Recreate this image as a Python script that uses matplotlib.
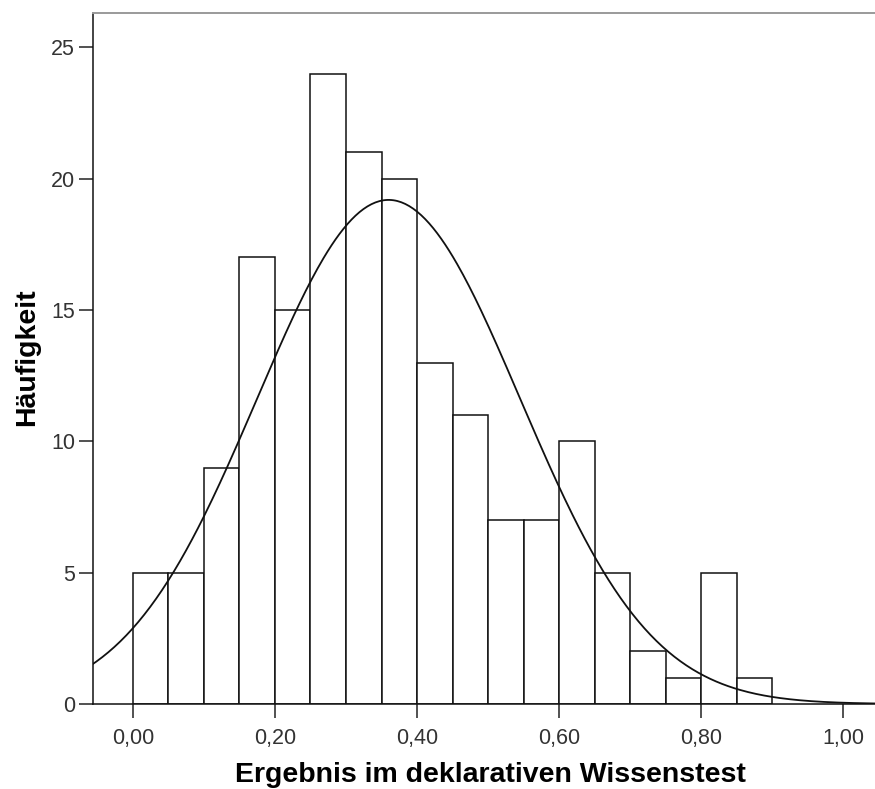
import numpy as np
import matplotlib
matplotlib.use('Agg')
import matplotlib.pyplot as plt
from matplotlib.ticker import FuncFormatter

# ---------------------
# DATA
# ---------------------
bin_left = [0.00, 0.05, 0.10, 0.15, 0.20, 0.25, 0.30, 0.35, 0.40,
            0.45, 0.50, 0.55, 0.60, 0.65, 0.70, 0.75, 0.80, 0.85]
counts = [5, 5, 9, 17, 15, 24, 21, 20, 13, 11, 7, 7, 10, 5, 2, 1, 5, 1]
bin_width = 0.05

# normal curve parameters (SPSS overlay)
curve_mean = 0.36
curve_sd = 0.185
n_total = sum(counts)

x_ticks = [0.0, 0.2, 0.4, 0.6, 0.8, 1.0]
y_ticks = [0, 5, 10, 15, 20, 25]

x_label = 'Ergebnis im deklarativen Wissenstest'
y_label = 'Häufigkeit'

plt.rcParams['font.family'] = ['Liberation Sans', 'DejaVu Sans']

fig = plt.figure(figsize=(8.75, 7.89), dpi=100)
ax = fig.add_axes([93 / 875, 85 / 789, 1 - 93 / 875, (704 - 12.7) / 789])

# bars
ax.bar(bin_left, counts, width=bin_width, align='edge',
       facecolor='white', edgecolor='#111111', linewidth=1.1, zorder=2)

# normal curve
xs = np.linspace(-0.06, 1.06, 400)
ys = n_total * bin_width / (curve_sd * np.sqrt(2 * np.pi)) * \
    np.exp(-0.5 * ((xs - curve_mean) / curve_sd) ** 2)
ax.plot(xs, ys, color='#111111', linewidth=1.3, zorder=3)

ax.set_xlim(-0.0563, 1.045)
ax.set_ylim(0, 26.32)

ax.set_xticks(x_ticks)
ax.set_yticks(y_ticks)
ax.xaxis.set_major_formatter(FuncFormatter(lambda v, p: f'{v:.2f}'.replace('.', ',')))
ax.tick_params(axis='both', direction='out', length=10, width=1.1,
               color='#222222', labelsize=15.5, labelcolor='#333333')
ax.tick_params(axis='x', pad=7)
ax.tick_params(axis='y', pad=3)

for side in ['left', 'bottom']:
    ax.spines[side].set_color('#111111')
    ax.spines[side].set_linewidth(1.1)
ax.spines['top'].set_color('#9a9a9a')
ax.spines['top'].set_linewidth(1.4)
ax.spines['right'].set_visible(False)

# x label sits at the very bottom edge, as in the original export
fig.text(490 / 875, (789 - 782.5) / 789, x_label, ha='center', va='baseline',
         fontsize=20.5, fontweight='bold', color='black')
fig.text(27 / 875, 1 - 357 / 789, y_label, ha='center', va='center',
         rotation=90, fontsize=20.5, fontweight='bold', color='black')

fig.savefig('out.png', dpi=100, facecolor='white')
